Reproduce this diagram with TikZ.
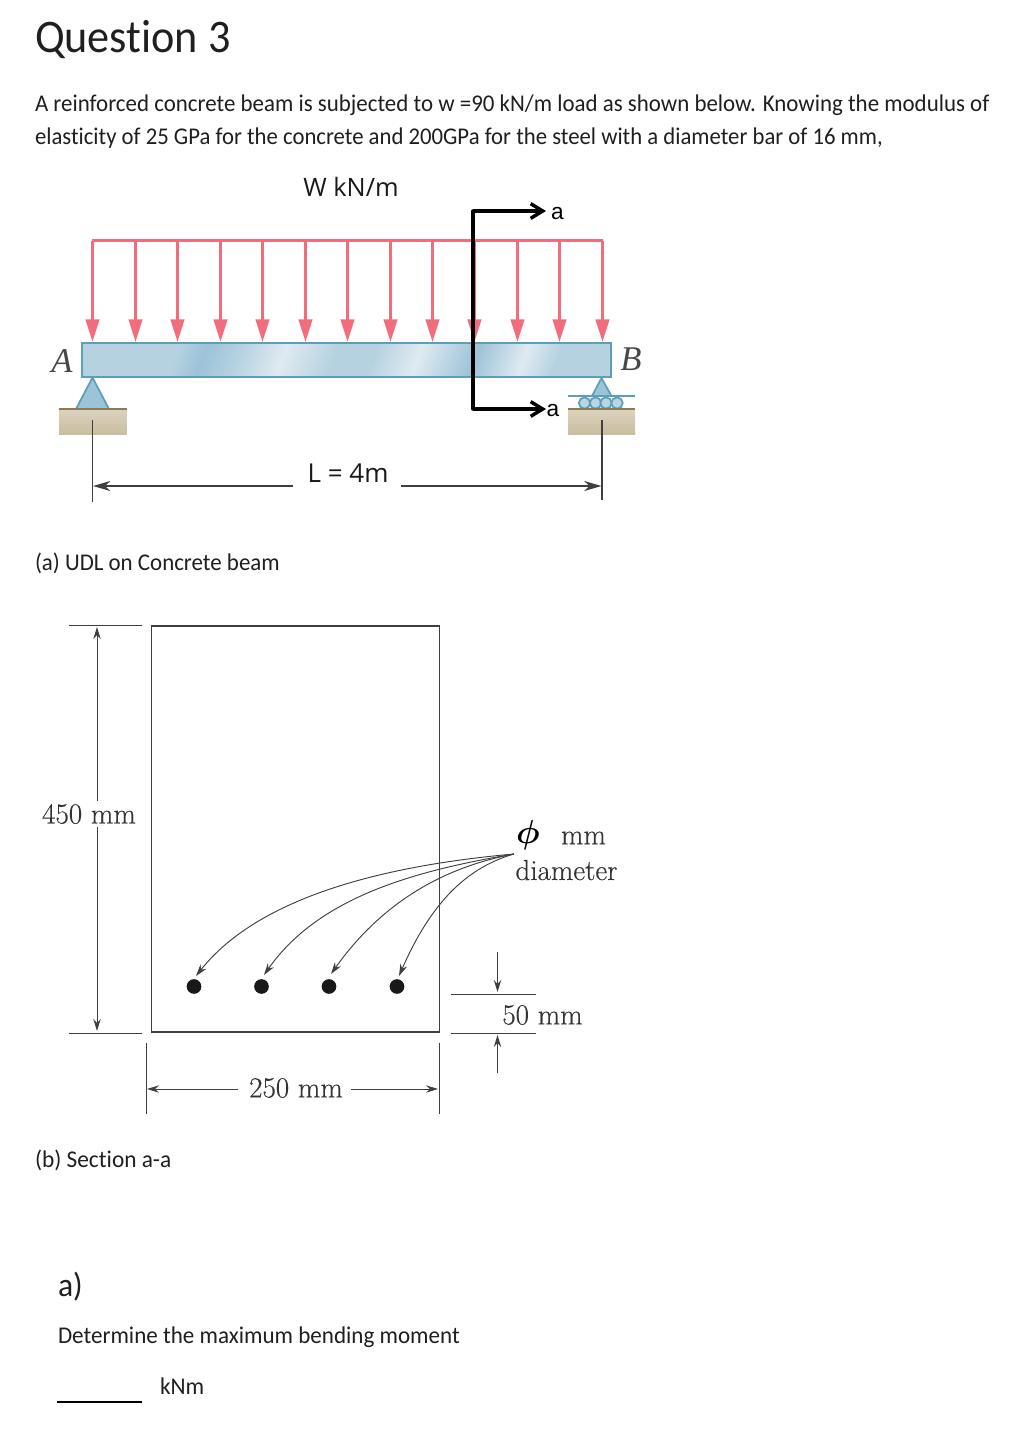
\documentclass[tikz,border=0pt]{standalone}
\usepackage{fontspec}
\setmainfont[FakeStretch=0.947,Ligatures=NoCommon]{Carlito}
\newfontfamily\labfont{Open Sans}
\newfontfamily\arialfont{Liberation Sans}
\newfontfamily\timesfont{Liberation Serif}
\newfontfamily\lmfont[FakeBold=0.35]{Latin Modern Roman}
\newcommand{\stretchto}[1]{\addfontfeatures{FakeStretch=#1}}
\usetikzlibrary{arrows.meta,calc}
\definecolor{loadred}{HTML}{F26D7B}
\definecolor{beamedge}{HTML}{5B9FB8}
\definecolor{dimgrey}{HTML}{3F3F3F}
\definecolor{bA}{HTML}{9CC3D8}
\definecolor{bB}{HTML}{DFEAF1}
\definecolor{bC}{HTML}{B5D2E1}
\definecolor{tanA}{HTML}{DCD3BF}
\definecolor{tanB}{HTML}{C9BDA0}
\definecolor{soil}{HTML}{8C7B4E}
\pgfdeclarehorizontalshading{beamshade}{100bp}{
 color(0bp)=(bC);
 color(25bp)=(bC);
 color(29.5bp)=(bC);
 color(32.8bp)=(bA);
 color(37bp)=(bC);
 color(42.3bp)=(bB);
 color(48.4bp)=(bC);
 color(53bp)=(bC);
 color(58.4bp)=(bB);
 color(65.2bp)=(bA);
 color(71bp)=(bB);
 color(75bp)=(bC);
 color(100bp)=(bC)}
\tikzset{
  x=0.75pt,y=-0.75pt,
  txt/.style={inner sep=0pt,outer sep=0pt,anchor=base west,text=black!88},
  body/.style={txt,font=\fontsize{18}{20}\selectfont},
  loadline/.style={loadred,line width=2.4pt},
  load/.style={loadline,-{Triangle[length=17pt,width=10pt]}},
  cut/.style={black,line width=2.6pt,-{Straight Barb[length=9pt,width=11pt,line width=2.6pt]}},
  dimthin/.style={dimgrey,line width=1.1pt},
  dimarrow/.style={dimthin,-{Stealth[length=13pt,width=7.5pt,inset=4pt]}},
  thinline/.style={dimgrey,line width=0.7pt},
  thinarrow/.style={thinline,-{Stealth[length=9pt,width=5.5pt,inset=3pt]}},
  sec/.style={inner sep=0pt,font=\lmfont\fontsize{21.8}{24}\selectfont,text=black!80},
  bar/.style={circle,fill=black!90,inner sep=0pt,minimum size=11pt},
  ground/.style={top color=tanA,bottom color=tanB,draw=none},
  support/.style={fill=bA,draw=beamedge,line width=1.3pt,line join=round},
  roller/.style={circle,draw=beamedge,fill=bA!70,line width=1.3pt,inner sep=0pt,minimum size=8.5pt}
}
\begin{document}
\begin{tikzpicture}
\useasboundingbox (0,0) rectangle (1024,1432);
% texts
\node[txt,font=\fontsize{35}{38}\selectfont] (title) at (35,52) {Question 3};
\node[body] (l1) at (35,111) {\stretchto{0.955}A reinforced concrete beam is subjected to w =90 kN/m load as shown below. Knowing the modulus of};
\node[body] (l2) at (35,144) {elasticity of 25 GPa for the concrete and 200GPa for the steel with a diameter bar of 16 mm,};
\node[body] (capa) at (35,570) {\stretchto{0.955}(a) UDL on Concrete beam};
\node[body] (capb) at (35,1167) {\stretchto{0.972}(b) Section a-a};
\node[txt,font=\fontsize{25}{27}\selectfont] (parta) at (58,1296) {a)};
\node[body] (q) at (58,1343) {\stretchto{0.961}Determine the maximum bending moment};
\node[body] (unit) at (160,1394) {\stretchto{0.97}kNm};
\coordinate (ansL) at (57,1402); \coordinate (ansR) at (142,1402);
\draw[black,line width=1.1pt] (ansL) -- (ansR);

% load
\draw[loadline] (91.5,240.5) -- (603,240.5);
\foreach \i/\x in {1/92.5,2/135.5,3/177.5,4/220.5,5/262.5,6/305.5,7/347.5,8/390.5,9/432.5,10/474.5,11/517.5,12/559.5,13/602.5}{
  \coordinate (lt\i) at (\x,240.5);
  \coordinate (lb\i) at (\x,342);
  \draw[load] (lt\i) -- (lb\i);
}
% beam
\node[draw=beamedge,line width=1.5pt,shading=beamshade,shading angle=-20,minimum width=396.5pt,minimum height=25.5pt,inner sep=0pt] (beam) at (346.5,359.5) {};
\node[txt,anchor=center,font=\timesfont\itshape\fontsize{26}{28}\selectfont,text=black!72] (A) at (62,361) {A};
\node[txt,anchor=center,font=\timesfont\itshape\fontsize{26}{28}\selectfont,text=black!72] (B) at (631,359) {B};
% support A
\fill[ground] (59,409) rectangle (126.5,434);
\draw[support] (92.5,377.5) -- (76,409) -- (109,409) -- cycle;
\draw[soil,line width=1.2pt] (59,409) -- (126.5,409);
% support B
\fill[ground] (568,409) rectangle (635,434);
\draw[support] (601.5,378) -- (592,396) -- (611.5,396) -- cycle;
\draw[beamedge,line width=1.2pt] (568,396) -- (635,396);
\foreach \i/\x in {1/584.5,2/595.5,3/606,4/617}{\node[roller] (r\i) at (\x,403) {};}
\draw[soil,line width=1.2pt] (568,409) -- (635,409);
% section cut
\coordinate (c1) at (473,211); \coordinate (c2) at (473,409);
\coordinate (c1e) at (546,211); \coordinate (c2e) at (546,409);
\draw[black,line width=2.6pt,line cap=round] (c1) -- (c2);
\draw[cut] (c1) -- (c1e);
\draw[cut] (c2) -- (c2e);
\node[inner sep=0pt,font=\arialfont\fontsize{17}{19}\selectfont] (a1) at (557.5,214) {a};
\node[inner sep=0pt,font=\arialfont\fontsize{17}{19}\selectfont] (a2) at (553,411) {a};
% labels
\node[inner sep=0pt,anchor=base,font=\labfont\fontsize{19}{21}\selectfont,text=black!90] (w) at (351,196) {W kN/m};
\node[inner sep=0pt,anchor=base,font=\labfont\fontsize{19.5}{21}\selectfont,text=black!90] (L) at (348,482) {L = 4m};
% span dimension
\coordinate (e1a) at (92.5,420); \coordinate (e1b) at (92.5,502);
\coordinate (e2a) at (602,420); \coordinate (e2b) at (602,500);
\draw[dimthin] (e1a) -- (e1b);
\draw[dimthin] (e2a) -- (e2b);
\coordinate (d1) at (293,486); \coordinate (d1e) at (93,486);
\coordinate (d2) at (401,486); \coordinate (d2e) at (601.5,486);
\draw[dimarrow] (d1) -- (d1e);
\draw[dimarrow] (d2) -- (d2e);

% section
\node[draw=dimgrey,line width=1pt,minimum width=216pt,minimum height=304.5pt,inner sep=0pt] (sect) at (295.5,829) {};
\coordinate (t1) at (69,625.5); \coordinate (t2) at (142,625.5);
\coordinate (b1) at (69,1033); \coordinate (b2) at (142,1033);
\draw[thinline] (t1) -- (t2);
\draw[thinline] (b1) -- (b2);
\node[sec] (h) at (89,814) {450 mm};
\coordinate (vt) at (97,627); \coordinate (vb) at (97,1031);
\draw[thinarrow] (h.north -| vt) ++(0,-3) -- (vt);
\draw[thinarrow] (h.south -| vb) ++(0,3) -- (vb);
% bottom dim
\coordinate (x1a) at (146.5,1043); \coordinate (x1b) at (146.5,1114);
\coordinate (x2a) at (439.5,1043); \coordinate (x2b) at (439.5,1114);
\draw[thinline] (x1a) -- (x1b);
\draw[thinline] (x2a) -- (x2b);
\node[sec] (wd) at (296,1088) {250 mm};
\coordinate (wl) at (147,1089); \coordinate (wr) at (438,1089);
\draw[thinarrow] (238,1089) -- (wl);
\draw[thinarrow] (351,1089) -- (wr);
% cover dim
\coordinate (cv1) at (451,994); \coordinate (cv1e) at (536,994);
\coordinate (cv2) at (451,1033); \coordinate (cv2e) at (536,1033);
\draw[thinline] (cv1) -- (cv1e);
\draw[thinline] (cv2) -- (cv2e);
\coordinate (cvt) at (497.5,952); \coordinate (cvtb) at (497.5,992);
\coordinate (cvb) at (497.5,1073); \coordinate (cvbt) at (497.5,1035);
\draw[thinarrow] (cvt) -- (cvtb);
\draw[thinarrow] (cvb) -- (cvbt);
\node[sec] (fifty) at (542.5,1015) {50 mm};
% bars
\node[bar] (s1) at (194,986.5) {};
\node[bar] (s2) at (261.5,986.5) {};
\node[bar] (s3) at (329,986.5) {};
\node[bar] (s4) at (397,986.5) {};
\node[inner sep=0pt,font=\fontsize{25}{27}\selectfont\boldmath] (phi) at (528,835) {$\phi$};
\node[sec] (mm) at (583.5,838) {mm};
\node[sec] (dia) at (566.5,870) {diameter};
\coordinate (lead) at (514,854);
\draw[thinarrow] (lead) .. controls (390,865) and (260,895) .. (196,976);
\draw[thinarrow] (lead) .. controls (420,870) and (320,895) .. (264,975);
\draw[thinarrow] (lead) .. controls (440,868) and (380,905) .. (331,974);
\draw[thinarrow] (lead) .. controls (465,868) and (430,905) .. (399,976);
\end{tikzpicture}
\end{document}
